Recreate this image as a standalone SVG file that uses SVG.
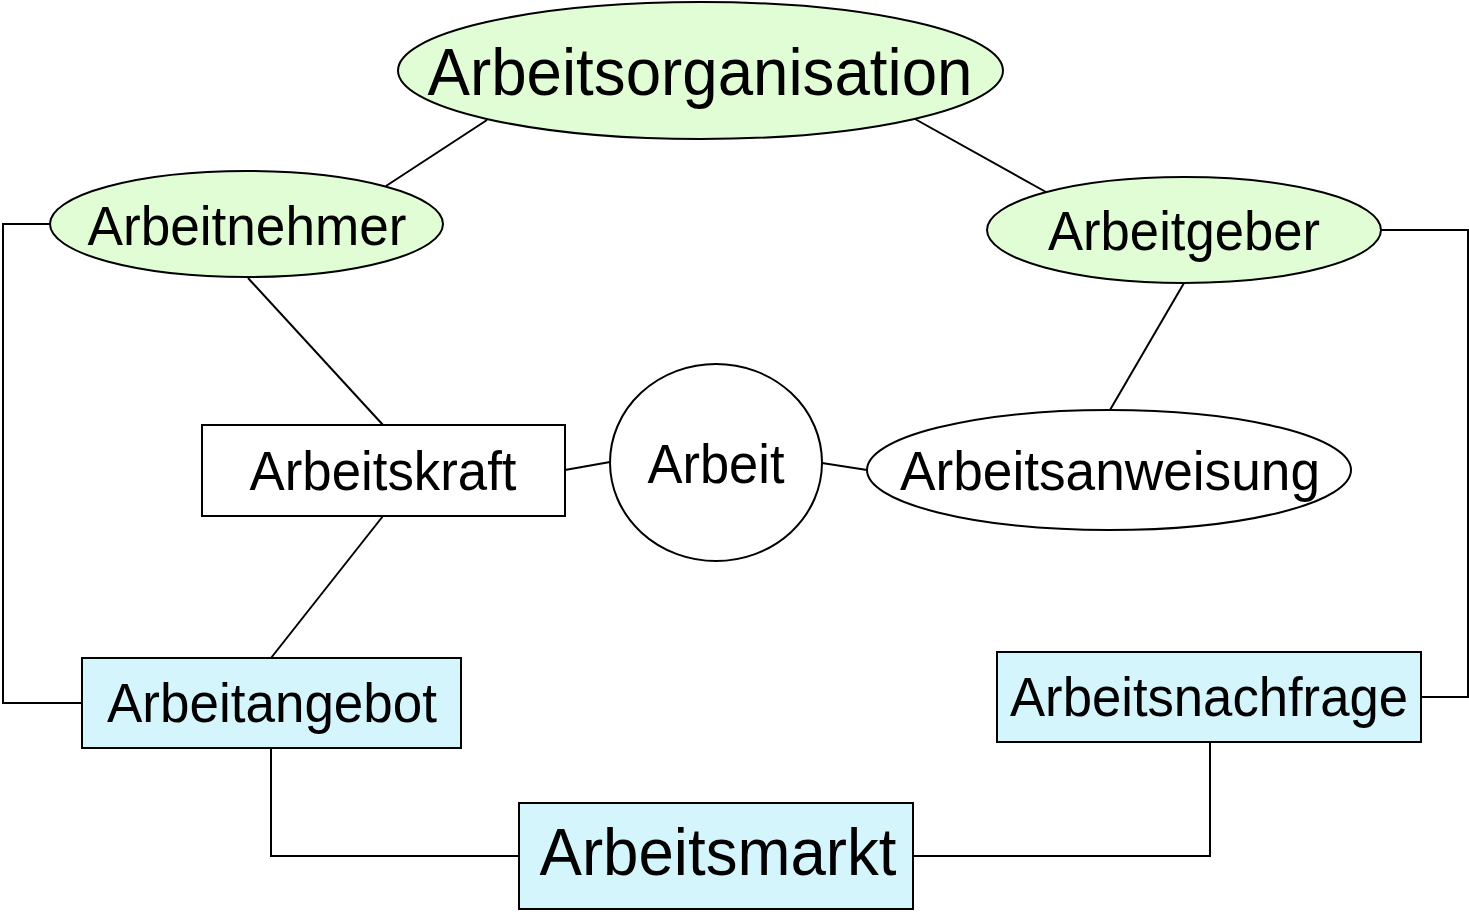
<svg xmlns="http://www.w3.org/2000/svg" width="1469" height="912" viewBox="0 0 1469 912">
<style>
.g{fill:#e1fdd5;stroke:#000;stroke-width:2}
.b{fill:#d5f5fd;stroke:#000;stroke-width:2}
.w{fill:#fff;stroke:#000;stroke-width:2}
.c{fill:none;stroke:#000;stroke-width:2}
text{font-family:"Liberation Sans",Arial,sans-serif;fill:#000;text-anchor:middle}
.m{font-size:56px}
.l{font-size:67px}
</style>
<rect width="1469" height="912" fill="#fff"/>
<g id="connectors">
<line class="c" x1="487" y1="120" x2="386" y2="186"/>
<line class="c" x1="915" y1="119" x2="1046" y2="192"/>
<polyline class="c" points="50,224 3,224 3,703 82,703"/>
<polyline class="c" points="1381,230 1468,230 1468,697 1421,697"/>
<line class="c" x1="248" y1="278" x2="383" y2="425"/>
<line class="c" x1="383" y1="516" x2="271" y2="658"/>
<line class="c" x1="565" y1="470" x2="610" y2="462"/>
<line class="c" x1="822" y1="463" x2="867" y2="470"/>
<line class="c" x1="1184" y1="283" x2="1110" y2="410"/>
<polyline class="c" points="271,748 271,856 519,856"/>
<polyline class="c" points="913,856 1210,856 1210,742"/>
</g>
<g id="arbeitsorganisation">
<ellipse class="g" cx="700.5" cy="70.5" rx="302.5" ry="68.5"/>
<text class="l" x="700" y="95" textLength="545" lengthAdjust="spacingAndGlyphs">Arbeitsorganisation</text>
</g>
<g id="arbeitnehmer">
<ellipse class="g" cx="246.5" cy="224" rx="196.5" ry="53"/>
<text class="m" x="247" y="245" textLength="319" lengthAdjust="spacingAndGlyphs">Arbeitnehmer</text>
</g>
<g id="arbeitgeber">
<ellipse class="g" cx="1184" cy="230" rx="197" ry="53"/>
<text class="m" x="1184" y="250" textLength="272" lengthAdjust="spacingAndGlyphs">Arbeitgeber</text>
</g>
<g id="arbeitskraft">
<rect class="w" x="202" y="425" width="363" height="91"/>
<text class="m" x="383" y="490" textLength="267" lengthAdjust="spacingAndGlyphs">Arbeitskraft</text>
</g>
<g id="arbeit">
<ellipse class="w" cx="716" cy="462.5" rx="106" ry="98.5"/>
<text class="m" x="716" y="483" textLength="137" lengthAdjust="spacingAndGlyphs">Arbeit</text>
</g>
<g id="arbeitsanweisung">
<ellipse class="w" cx="1109" cy="470" rx="242" ry="60"/>
<text class="m" x="1110" y="490" textLength="420" lengthAdjust="spacingAndGlyphs">Arbeitsanweisung</text>
</g>
<g id="arbeitangebot">
<rect class="b" x="82" y="658" width="379" height="90"/>
<text class="m" x="272" y="722" textLength="330" lengthAdjust="spacingAndGlyphs">Arbeitangebot</text>
</g>
<g id="arbeitsnachfrage">
<rect class="b" x="997" y="652" width="424" height="90"/>
<text class="m" x="1209" y="716" textLength="398" lengthAdjust="spacingAndGlyphs">Arbeitsnachfrage</text>
</g>
<g id="arbeitsmarkt">
<rect class="b" x="519" y="803" width="394" height="106"/>
<text class="l" x="718" y="875" textLength="357" lengthAdjust="spacingAndGlyphs">Arbeitsmarkt</text>
</g>
</svg>
